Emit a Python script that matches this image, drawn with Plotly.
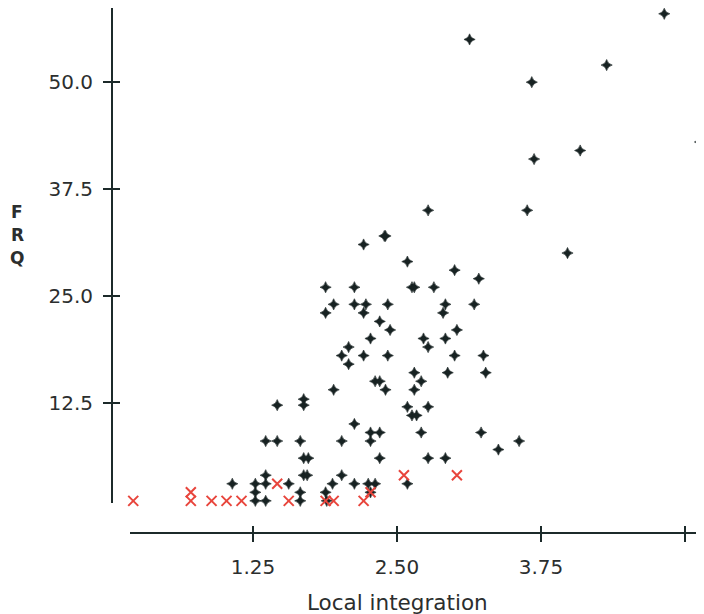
import plotly.graph_objects as go

# Black points (Local integration, FRQ)
black_x = [4.82, 3.13, 4.32, 3.67, 5.13, 4.09, 3.69, 2.77, 3.63, 3.98,
           2.59, 3.00, 3.21, 2.63, 2.65, 2.82, 2.92, 3.17, 2.90, 3.02,
           2.73, 2.92, 2.77, 3.00, 3.25, 2.65, 2.94, 3.27, 2.71, 2.65,
           2.59, 2.77, 2.63, 2.67, 2.71, 3.23, 3.56, 3.38, 2.77, 2.92,
           2.39, 2.40, 2.21, 1.88, 2.13, 1.95, 2.13, 2.23, 2.42, 1.88,
           2.21, 2.35, 2.44, 2.27, 2.08, 2.02, 2.21, 2.42, 2.08, 2.31,
           2.35, 1.95, 2.40, 1.69, 1.46, 1.69, 2.13, 2.27, 2.35, 2.27,
           1.36, 1.46, 1.66, 2.02, 2.35, 1.69, 1.73, 1.36, 1.69, 1.72,
           2.02, 1.07, 1.27, 1.36, 1.56, 1.94, 2.13, 2.25, 2.31, 2.59,
           1.27, 1.66, 1.88, 2.27, 1.27, 1.36, 1.66, 1.89]
black_y = [58, 55, 52, 50, 43, 42, 41, 35, 35, 30,
           29, 28, 27, 26, 26, 26, 24, 24, 23, 21,
           20, 20, 19, 18, 18, 16, 16, 16, 15, 14,
           12, 12, 11, 11, 9, 9, 8, 7, 6, 6,
           32, 32, 31, 26, 26, 24, 24, 24, 24, 23,
           23, 22, 21, 20, 19, 18, 18, 18, 17, 15,
           15, 14, 14, 12.9, 12.2, 12.2, 10, 9, 9, 8,
           8, 8, 8, 8, 6, 6, 6, 4, 4, 4,
           4, 3, 3, 3, 3, 3, 3, 3, 3, 3,
           2, 2, 2, 2, 1, 1, 1, 1]

# Red crosses
red_x = [0.21, 0.71, 0.71, 0.89, 1.02, 1.15, 1.46, 1.56, 1.88, 1.95,
         2.21, 2.27, 2.56, 3.02]
red_y = [1, 2, 1, 1, 1, 1, 3, 1, 1, 1,
         1, 2, 4, 4]

x_ticks = [1.25, 2.50, 3.75, 5.00]
x_ticktext = ["1.25", "2.50", "3.75", ""]
y_ticks = [12.5, 25.0, 37.5, 50.0]
y_ticktext = ["12.5", "25.0", "37.5", "50.0"]

AX = "#1c2a2a"
TXT = "#2b2e2e"
FONT = "DejaVu Sans"

# page body has an 8px margin; lay out in window pixels and shift
OFF = 8
W, H = 704 - OFF, 614 - OFF
ML, MR, MT, MB = 92, 0, 0, 74
PW, PH = W - ML - MR, H - MT - MB

def sx(p):
    return (p - OFF - ML) / PW

def sy(p):
    return (MT + PH - (p - OFF)) / PH

x_range = [0.182, 5.165]
y_range = [0.75, 58.68]
x_dom = [sx(130), 1.0]
y_dom = [sy(503), 1.0]
x_pos = sy(533)
y_pos = sx(112)

fig = go.Figure()
fig.add_trace(go.Scatter(
    x=black_x, y=black_y, mode="markers",
    marker=dict(symbol="star-diamond", size=8, color="#172222",
                line=dict(width=0.6, color="#172222")),
    cliponaxis=False, showlegend=False, hoverinfo="x+y"))
fig.add_trace(go.Scatter(
    x=red_x, y=red_y, mode="markers",
    marker=dict(symbol="x-thin", size=10, color="#e8453c",
                line=dict(width=2, color="#e8453c")),
    cliponaxis=False, showlegend=False, hoverinfo="x+y"))
# invisible trace for overlay axes (inside half of crossing ticks)
fig.add_trace(go.Scatter(x=[x_range[0]], y=[y_range[0]], xaxis="x2", yaxis="y2",
                         mode="markers", marker=dict(opacity=0),
                         showlegend=False, hoverinfo="skip"))

common_x = dict(range=x_range, domain=x_dom, anchor="free", position=x_pos,
                tickmode="array", tickvals=x_ticks, showgrid=False,
                zeroline=False, tickwidth=2, tickcolor=AX)
common_y = dict(range=y_range, domain=y_dom, anchor="free", position=y_pos,
                tickmode="array", tickvals=y_ticks, showgrid=False,
                zeroline=False, tickwidth=2, tickcolor=AX)

fig.update_layout(
    width=W, height=H,
    margin=dict(l=ML, r=MR, t=MT, b=MB),
    paper_bgcolor="white", plot_bgcolor="white",
    xaxis=dict(**common_x, ticktext=x_ticktext, ticks="outside", ticklen=8,
               showline=True, linecolor=AX, linewidth=2,
               ticklabelstandoff=8,
               tickfont=dict(family=FONT, size=20, color=TXT)),
    yaxis=dict(**common_y, ticktext=y_ticktext, ticks="outside", ticklen=8,
               showline=True, linecolor=AX, linewidth=2,
               ticklabelstandoff=6,
               tickfont=dict(family=FONT, size=20, color=TXT)),
    xaxis2=dict(**common_x, overlaying="x", ticks="inside", ticklen=7,
                showticklabels=False, showline=False),
    yaxis2=dict(**common_y, overlaying="y", ticks="inside", ticklen=7,
                showticklabels=False, showline=False),
    annotations=[
        dict(text="Local integration", x=sx(397), y=sy(602),
             xref="paper", yref="paper", showarrow=False,
             xanchor="center", yanchor="middle",
             font=dict(family=FONT, size=21.5, color=TXT)),
    ] + [
        dict(text="<b>%s</b>" % ch, x=sx(17), y=sy(yy),
             xref="paper", yref="paper", showarrow=False,
             xanchor="center", yanchor="middle",
             font=dict(family=FONT, size=17, color=TXT))
        for ch, yy in zip("FRQ", [211.5, 234.5, 257.5])
    ],
)

fig.write_html("out.html")
